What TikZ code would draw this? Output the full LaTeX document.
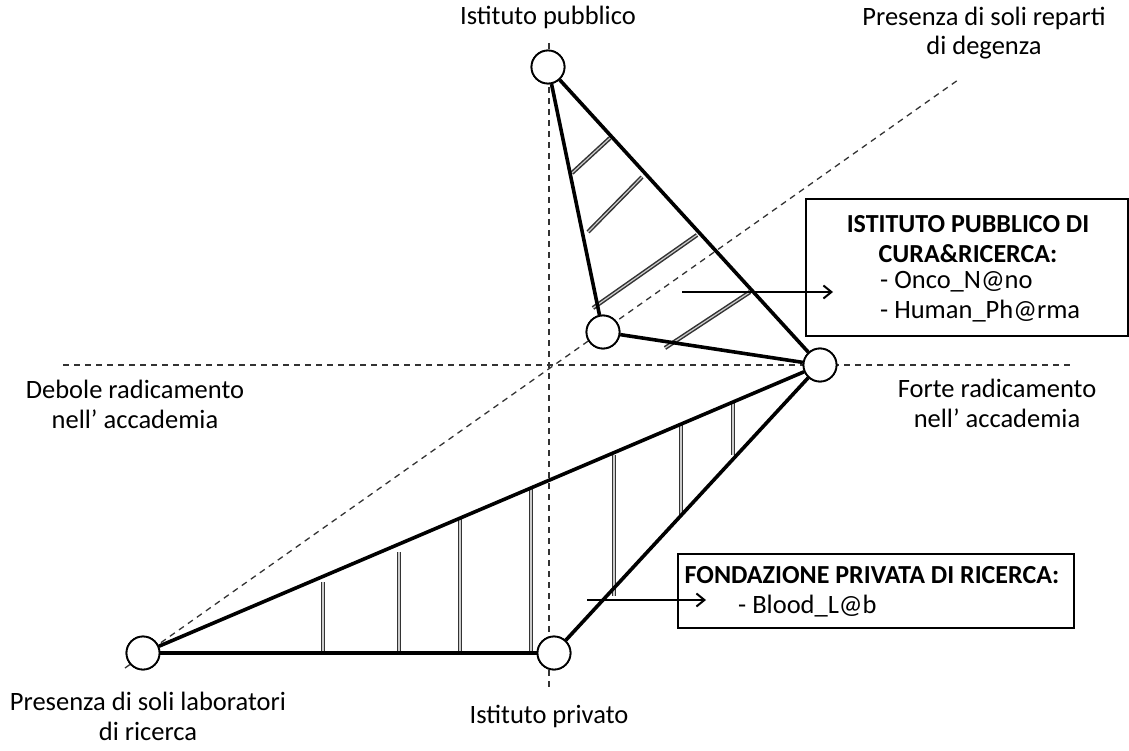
\documentclass[tikz,border=0pt]{standalone}
\usepackage{fontspec}
\setmainfont{Carlito}
\usetikzlibrary{arrows.meta}
\begin{document}
\begin{tikzpicture}[x=1pt,y=-1pt,
  axisline/.style={line width=1.3pt, black!80, dash pattern=on 6pt off 5pt},
  vtx/.style={circle, draw, line width=1.8pt, fill=white, minimum size=33pt, inner sep=0pt},
  edgeline/.style={line width=3.6pt},
  hatchline/.style={line width=1.5pt, draw=black!80, double=white!60!gray, double distance=1.2pt},
  lbl/.style={font=\fontsize{26.5}{29.5}\selectfont, inner sep=0pt},
  boldlbl/.style={font=\fontsize{26}{29}\selectfont\bfseries, inner sep=0pt},
  boxstyle/.style={draw, line width=2pt, fill=white},
  arr/.style={line width=2pt, -{Straight Barb[length=8pt,width=13pt,line width=2pt]}}
]
\useasboundingbox (0,0) rectangle (1129,751);

% axes
\coordinate (hl) at (63,365);
\coordinate (hr) at (1073,365);
\coordinate (vt) at (549,43);
\coordinate (vb) at (549,690);
\coordinate (dl) at (125,668);
\coordinate (dr) at (958,80);
\draw[axisline] (hl) -- (hr);
\draw[axisline] (vt) -- (vb);
\draw[axisline] (dl) -- (dr);

% hatching, upper triangle
\draw[hatchline] (572,173) -- (610,138);
\draw[hatchline] (588,232) -- (642,177);
\draw[hatchline] (593,308) -- (697,235);
\draw[hatchline] (665,348) -- (750,292);

% hatching, lower triangle
\draw[hatchline] (323,582) -- (323,652);
\draw[hatchline] (399,552) -- (399,652);
\draw[hatchline] (460,518) -- (460,652);
\draw[hatchline] (531,489) -- (531,652);
\draw[hatchline] (614,455) -- (614,596);
\draw[hatchline] (681,425) -- (681,515);
\draw[hatchline] (733,403) -- (733,455);

% vertices
\node[vtx] (A) at (548,67) {};
\node[vtx] (B) at (603,332) {};
\node[vtx] (C) at (820,365) {};
\node[vtx] (D) at (143,653) {};
\node[vtx] (E) at (554,653) {};

% triangle edges
\draw[edgeline] (A) -- (C);
\draw[edgeline] (A) -- (B);
\draw[edgeline] (B) -- (C);
\draw[edgeline] (D) -- (C);
\draw[edgeline] (D) -- (E);
\draw[edgeline] (E) -- (C);

% redraw circles on top
\node[vtx] at (A) {};
\node[vtx] at (B) {};
\node[vtx] at (C) {};
\node[vtx] at (D) {};
\node[vtx] at (E) {};

% boxes
\node[boxstyle, anchor=north west, minimum width=322pt, minimum height=137pt] (box1) at (805,198) {};
\node[boxstyle, anchor=north west, minimum width=396pt, minimum height=74pt] (box2) at (677,553) {};

% arrows
\coordinate (a1s) at (682,292);
\coordinate (a1e) at (833,292);
\coordinate (a2s) at (587,600);
\coordinate (a2e) at (706,600);
\draw[arr] (a1s) -- (a1e);
\draw[arr] (a2s) -- (a2e);

% labels (multi-line nodes: base = last line baseline)
\node[lbl, anchor=base] (tpub) at (548,25) {Istituto pubblico};
\node[lbl, anchor=base] (tpriv) at (549,723) {Istituto privato};
\node[lbl, anchor=base, align=center] (tdeg) at (984,55) {Presenza di soli reparti\\di degenza};
\node[lbl, anchor=base, align=center] (tdeb) at (135,428) {Debole radicamento\\nell’ accademia};
\node[lbl, anchor=base, align=center] (tfor) at (997,427) {Forte radicamento\\nell’ accademia};
\node[lbl, anchor=base, align=center] (tlab) at (148,740) {Presenza di soli laboratori\\di ricerca};

\node[boldlbl, anchor=base, align=center] (b1t) at (968,262) {ISTITUTO PUBBLICO DI\\CURA\&RICERCA:};
\node[lbl, anchor=base west, align=left] (b1i) at (880,318) {- Onco\_N@no\\- Human\_Ph@rma};
\node[boldlbl, anchor=base] (b2t) at (872,583) {FONDAZIONE PRIVATA DI RICERCA:};
\node[lbl, anchor=base west] (b2i) at (738,613) {- Blood\_L@b};
\end{tikzpicture}
\end{document}
